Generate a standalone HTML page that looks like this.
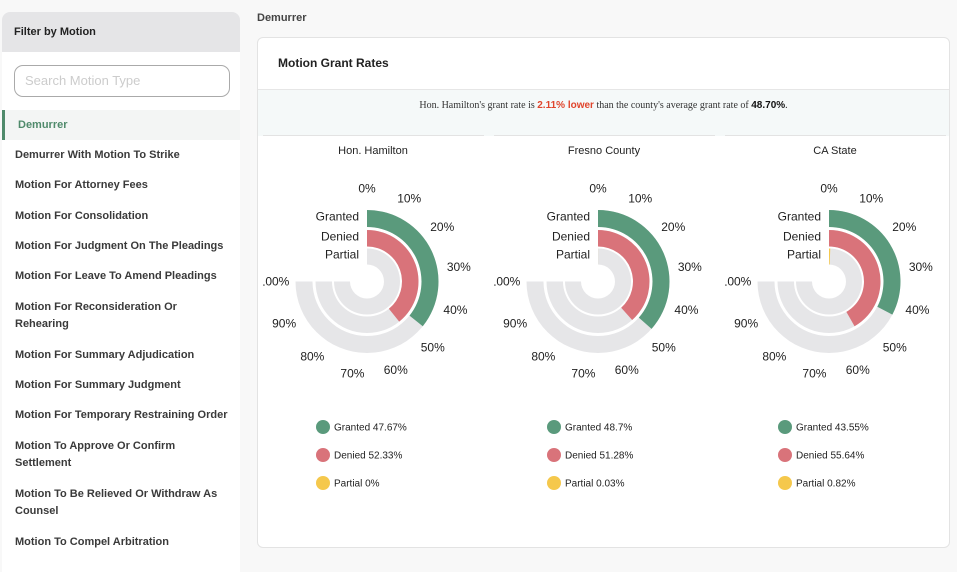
<!DOCTYPE html>
<html><head><meta charset="utf-8"><style>
body{margin:0;width:957px;height:556px;background:#f8f8f8;font-family:"Liberation Sans",sans-serif;position:relative;overflow:hidden}
.side{position:absolute;left:2px;top:12px;width:238px;height:560px;background:#fff;border-radius:8px 8px 0 0;overflow:hidden}
.sh{height:40px;background:#e5e5e7;font-size:11px;font-weight:bold;color:#222;line-height:40px;padding-left:12px}
.search{position:absolute;left:12px;top:53px;width:216px;height:32px;border:1px solid #aaa;border-radius:9px;box-sizing:border-box;font-size:13px;color:#ccc;padding:7px 10px}
.item{position:absolute;left:0;width:238px;font-size:11px;font-weight:bold;color:#3a3a3a;padding-left:13px;line-height:17px;box-sizing:border-box}
.sel{background:#f3f5f4;border-left:3px solid #4f8a6b;color:#4f8a6b;height:30px;line-height:30px;padding-left:13px}
.card{position:absolute;left:257px;top:37px;width:693px;height:511px;background:#fff;border:1px solid #e3e3e3;border-radius:6px;box-sizing:border-box}
</style></head><body>
<div class="side">
<div class="sh">Filter by Motion</div>
<div class="search">Search Motion Type</div>
<div class="item sel" style="top:98px">Demurrer</div>
<div class="item" style="top:135px">Demurrer With Motion To Strike</div>
<div class="item" style="top:165px">Motion For Attorney Fees</div>
<div class="item" style="top:196px">Motion For Consolidation</div>
<div class="item" style="top:226px">Motion For Judgment On The Pleadings</div>
<div class="item" style="top:256px">Motion For Leave To Amend Pleadings</div>
<div class="item" style="top:287px">Motion For Reconsideration Or<br>Rehearing</div>
<div class="item" style="top:335px">Motion For Summary Adjudication</div>
<div class="item" style="top:365px">Motion For Summary Judgment</div>
<div class="item" style="top:395px">Motion For Temporary Restraining Order</div>
<div class="item" style="top:426px">Motion To Approve Or Confirm<br>Settlement</div>
<div class="item" style="top:474px">Motion To Be Relieved Or Withdraw As<br>Counsel</div>
<div class="item" style="top:522px">Motion To Compel Arbitration</div>
</div>
<div style="position:absolute;left:257px;top:12px;font-size:11px;font-weight:bold;color:#444">Demurrer</div>
<div class="card">
<div style="position:absolute;left:20px;top:18px;font-size:12px;font-weight:bold;color:#222">Motion Grant Rates</div>
<div style="position:absolute;left:0;top:51px;width:691px;height:46px;background:#f5f9f9;border-top:1px solid #e6e6e6;font-family:'Liberation Serif',serif;font-size:10px;color:#333;text-align:center;line-height:32px">Hon. Hamilton's grant rate is <b style="font-family:'Liberation Sans',sans-serif;color:#e0452c">2.11% lower</b> than the county's average grant rate of <b style="font-family:'Liberation Sans',sans-serif;color:#111">48.70%</b>.</div>
</div>
<svg id="ch" width="957" height="556" style="position:absolute;left:0;top:0"></svg>
<script>
const panels=["Hon. Hamilton","Fresno County","CA State"];
const granted=[47.67,48.7,43.55];
const denied=[52.33,51.28,55.64];
const partial=[0,0.03,0.82];
const ticks=["0%","10%","20%","30%","40%","50%","60%","70%","80%","90%","100%"];
const NS="http://www.w3.org/2000/svg";
const svg=document.getElementById('ch');
function mk(t,a,p){const e=document.createElementNS(NS,t);for(const k in a)e.setAttribute(k,a[k]);(p||svg).appendChild(e);return e;}
const ang=v=>v/100*270*Math.PI/180;
function arc(cx,cy,r0,r1,v){const a=ang(v);if(v<=0)return "";const l=a>Math.PI?1:0;
const p=(r,t)=>[cx+r*Math.sin(t),cy-r*Math.cos(t)];
const [x1,y1]=p(r1,0),[x2,y2]=p(r1,a),[x3,y3]=p(r0,a),[x4,y4]=p(r0,0);
return `M${x1},${y1}A${r1},${r1} 0 ${l} 1 ${x2},${y2}L${x3},${y3}A${r0},${r0} 0 ${l} 0 ${x4},${y4}Z`;}
const rings=[[54.5,71.5],[35,51.5],[17,33]];
const cols=["#5a9a7c","#d9737a","#f5c84c"];
const names=["Granted","Denied","Partial"];
const defs=mk('defs',{});
panels.forEach((name,i)=>{
 const cx=367+i*231,cy=281.5,lx=263+i*231;
 const cp=mk('clipPath',{id:'cp'+i},defs);mk('rect',{x:lx,y:130,width:222,height:400},cp);
 const g=mk('g',{'clip-path':'url(#cp'+i+')'});
 
 let e=mk('line',{x1:lx,y1:135.5,x2:lx+221,y2:135.5,stroke:'#e3e3e3','stroke-width':1},g);
 
 e=mk('text',{x:cx+6,y:154,'font-size':11,'text-anchor':'middle',fill:'#222'},g);e.textContent=name;
 
 const vals=[granted[i],denied[i],partial[i]];
 rings.forEach((r,j)=>{
  e=mk('path',{d:arc(cx,cy,r[0],r[1],100),fill:'#e6e6e8'},g);
  
  e=mk('path',{d:arc(cx,cy,r[0],r[1],vals[j]),fill:cols[j]},g);
  
  e=mk('text',{x:cx-8,y:cy-(r[0]+r[1])/2+2,'font-size':12,'text-anchor':'end',fill:'#222'},g);e.textContent=names[j];
  
 });
 ticks.forEach((t,k)=>{const a=ang(k*10),R=93;
  e=mk('text',{x:cx+R*Math.sin(a),y:cy-R*Math.cos(a)+4,'font-size':12,'text-anchor':'middle',fill:'#222'},g);e.textContent=t;
  });
 names.forEach((n,j)=>{const y=427+j*28;
  e=mk('circle',{cx:cx-44,cy:y,r:7,fill:cols[j]},g);
  
  e=mk('text',{x:cx-33,y:y+3.5,'font-size':10,fill:'#222'},g);e.textContent=n+' '+vals[j]+'%';
  });
});
</script>
</body></html>
